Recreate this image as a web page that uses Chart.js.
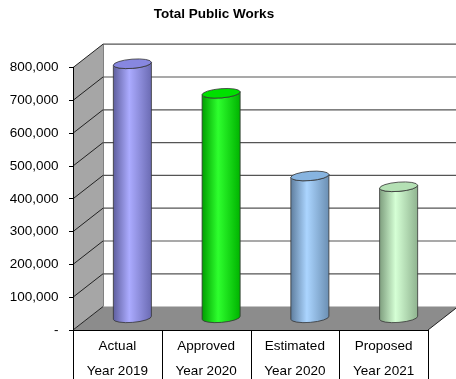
<!DOCTYPE html>
<html>
<head>
<meta charset="utf-8">
<title>Total Public Works</title>
<script src="https://cdn.jsdelivr.net/npm/chart.js@4/dist/chart.umd.min.js"></script>
<style>
  html, body { margin: 0; padding: 0; background: #fff; }
</style>
</head>
<body>
<canvas id="works-chart" width="456" height="379"></canvas>
<script>
/*************************/
/**   Data              **/
/*************************/

var categories = [["Actual", "Year 2019"], ["Approved", "Year 2020"], ["Estimated", "Year 2020"], ["Proposed", "Year 2021"]];
var spending = [776000, 686000, 434000, 401000];
var barColors = ["#9999ff", "#00ff00", "#99ccff", "#ccffcc"];
var yTicks = [0, 100000, 200000, 300000, 400000, 500000, 600000, 700000, 800000];

/*************************/
/**   3D look           **/
/*************************/

var DX = 30;      // depth of the box, horizontal
var DY = -23.4;   // depth of the box, vertical
var FONT = 'Arial, "Liberation Sans", sans-serif';

function shade(hex, f) {
    var n = parseInt(hex.slice(1), 16);
    var rgb = [(n >> 16) & 255, (n >> 8) & 255, n & 255].map(function (v) {
        return Math.max(0, Math.min(255, Math.round(v * f)));
    });
    return 'rgb(' + rgb.join(',') + ')';
}

function lighten(hex, t) {
    var n = parseInt(hex.slice(1), 16);
    var rgb = [(n >> 16) & 255, (n >> 8) & 255, n & 255].map(function (v) {
        return Math.round(v + (255 - v) * t);
    });
    return 'rgb(' + rgb.join(',') + ')';
}

var box3d = {
    id: 'box3d',
    beforeDraw: function (chart) {
        var ctx = chart.ctx, a = chart.chartArea, ys = chart.scales.y;
        var L = a.left, R = a.right, T = a.top, B = a.bottom;
        ctx.save();

        // side wall
        ctx.beginPath();
        ctx.moveTo(L, T);
        ctx.lineTo(L + DX, T + DY);
        ctx.lineTo(L + DX, B + DY);
        ctx.lineTo(L, B);
        ctx.closePath();
        ctx.fillStyle = '#a6a6a6';
        ctx.fill();

        // floor
        ctx.beginPath();
        ctx.moveTo(L, B);
        ctx.lineTo(L + DX, B + DY);
        ctx.lineTo(R + DX, B + DY);
        ctx.lineTo(R, B);
        ctx.closePath();
        ctx.fillStyle = '#8c8c8c';
        ctx.fill();

        // back wall left edge
        ctx.strokeStyle = '#808080';
        ctx.lineWidth = 1;
        ctx.beginPath();
        ctx.moveTo(L + DX + 0.5, T + DY);
        ctx.lineTo(L + DX + 0.5, B + DY);
        ctx.stroke();

        // gridlines: back wall + side wall diagonals
        yTicks.forEach(function (v) {
            var py = ys.getPixelForValue(v);
            if (v > 0) {
                ctx.strokeStyle = '#555';
                ctx.lineWidth = 1.2;
                ctx.beginPath();
                ctx.moveTo(L + DX, py + DY);
                ctx.lineTo(R + DX, py + DY);
                ctx.stroke();
            }
            ctx.strokeStyle = '#222';
            ctx.lineWidth = 1;
            ctx.beginPath();
            ctx.moveTo(L, py);
            ctx.lineTo(L + DX, py + DY);
            ctx.stroke();
        });

        // floor right edge
        ctx.strokeStyle = '#222';
        ctx.beginPath();
        ctx.moveTo(R, B);
        ctx.lineTo(R + DX, B + DY);
        ctx.stroke();

        // category table under the floor
        var w = (R - L) / categories.length;
        ctx.strokeStyle = '#000';
        for (var k = 0; k <= categories.length; k++) {
            var x = Math.round(L + k * w) + 0.5;
            ctx.beginPath();
            ctx.moveTo(x, B);
            ctx.lineTo(x, chart.height);
            ctx.stroke();
        }
        ctx.restore();
    },
    afterDatasetsDraw: function (chart) {
        var ctx = chart.ctx, meta = chart.getDatasetMeta(0);
        ctx.save();
        meta.data.forEach(function (bar, i) {
            var cx = bar.x + DX / 2, top = bar.y + DY / 2, base = bar.base + DY / 2;
            var rx = bar.width / 2, ry = 4.6, rot = -0.08;
            var col = barColors[i];
            var lx = cx - rx * Math.cos(rot), ly = -rx * Math.sin(rot);

            var grad = ctx.createLinearGradient(cx - rx, 0, cx + rx, 0);
            grad.addColorStop(0, shade(col, 0.62));
            grad.addColorStop(0.42, lighten(col, 0.18));
            grad.addColorStop(1, shade(col, 0.7));

            // body
            ctx.beginPath();
            ctx.ellipse(cx, base, rx, ry, rot, 0, Math.PI, false);
            ctx.lineTo(lx, top + ly);
            ctx.ellipse(cx, top, rx, ry, rot, Math.PI, 0, true);
            ctx.closePath();
            ctx.fillStyle = grad;
            ctx.fill();
            ctx.strokeStyle = '#333';
            ctx.lineWidth = 0.8;
            ctx.stroke();

            // lid
            ctx.beginPath();
            ctx.ellipse(cx, top, rx, ry, rot, 0, Math.PI * 2);
            ctx.fillStyle = shade(col, 0.88);
            ctx.fill();
            ctx.stroke();
        });
        ctx.restore();
    }
};

/*************************/
/**   Chart             **/
/*************************/

var ctxW = document.getElementById("works-chart").getContext('2d');
var worksChart = new Chart(ctxW, {
    type: 'bar',
    data: {
        labels: categories,
        datasets: [
            {
                data: spending,
                backgroundColor: 'rgba(0,0,0,0)',
                borderWidth: 0,
                categoryPercentage: 1,
                barPercentage: 0.43
            }
        ]
    },
    options: {
        responsive: false,
        animation: false,
        events: [],
        layout: { padding: { top: 0, right: 28, left: 0, bottom: 0 } },
        plugins: {
            legend: { display: false },
            tooltip: { enabled: false },
            title: {
                display: true,
                text: 'Total Public Works',
                color: '#000',
                font: { family: FONT, size: 13.5, weight: 'bold', lineHeight: 1.2 },
                padding: { top: 6.5, bottom: 44.9 }
            }
        },
        scales: {
            x: {
                offset: true,
                grid: { display: false, drawTicks: false },
                border: { display: true, color: '#000' },
                ticks: {
                    color: '#000',
                    font: { family: FONT, size: 13.5, lineHeight: 1.85 },
                    padding: 3.5,
                    maxRotation: 0,
                    autoSkip: false
                },
                afterFit: function (scale) { scale.height = 49; }
            },
            y: {
                min: yTicks[0],
                max: yTicks[yTicks.length - 1],
                grid: { display: true, drawOnChartArea: false, drawTicks: true, tickLength: 4, color: '#000' },
                border: { display: true, color: '#000' },
                ticks: {
                    stepSize: yTicks[1] - yTicks[0],
                    color: '#000',
                    padding: 10.5,
                    font: { family: FONT, size: 13.5 },
                    callback: function (v) { return v === 0 ? '-' : v.toLocaleString('en-US'); }
                },
                afterFit: function (scale) { scale.width = 73; }
            }
        }
    },
    plugins: [box3d]
});
</script>
</body>
</html>
